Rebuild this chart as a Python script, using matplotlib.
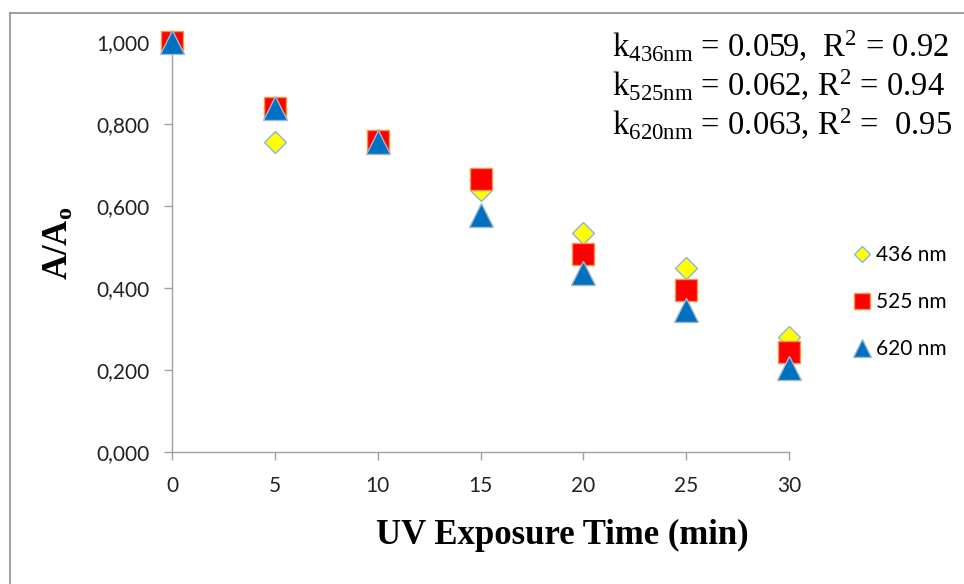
import matplotlib
matplotlib.use("Agg")
from matplotlib import pyplot as plt
from matplotlib.lines import Line2D
from matplotlib.ticker import FuncFormatter, MultipleLocator

plt.rcParams['mathtext.fontset'] = 'custom'
plt.rcParams['mathtext.rm'] = 'Liberation Serif'
plt.rcParams['mathtext.it'] = 'Liberation Serif:italic'
plt.rcParams['mathtext.bf'] = 'Liberation Serif:bold'

### data ###

time_min = [0, 5, 10, 15, 20, 25, 30]
a_436 = [1.000, 0.757, 0.760, 0.638, 0.533, 0.450, 0.280]
a_525 = [1.000, 0.839, 0.759, 0.666, 0.484, 0.396, 0.244]
a_620 = [1.000, 0.838, 0.755, 0.578, 0.437, 0.347, 0.205]
labels = ["436 nm", "525 nm", "620 nm"]
fit_lines = [
    r"k$_{\mathrm{436nm}}$ = 0.059,  R$^{2}$ = 0.92",
    r"k$_{\mathrm{525nm}}$ = 0.062, R$^{2}$ = 0.94",
    r"k$_{\mathrm{620nm}}$ = 0.063, R$^{2}$ =  0.95",
]

### plot ###

fig = plt.figure(figsize=(9.64, 5.84), dpi=100)
ax = fig.add_axes([172/964, 1-452/584, (789-172)/964, (452-42)/584])

ax.plot(time_min, a_436, ls='none', marker='D', ms=11.5, mfc='#FFFF00',
        mec='#8DB3E2', mew=1.0, clip_on=False, zorder=3, label=labels[0])
ax.plot(time_min, a_525, ls='none', marker='s', ms=16, mfc='#FF0000',
        mec='#F79646', mew=1.0, clip_on=False, zorder=4, label=labels[1])
ax.plot(time_min, a_620, ls='none', marker='^', ms=17, mfc='#0070C0',
        mec='#A6B8CC', mew=1.0, clip_on=False, zorder=5, label=labels[2])

ax.set_xlim(0, 30)
ax.set_ylim(0, 1)
ax.xaxis.set_major_locator(MultipleLocator(5))
ax.yaxis.set_major_locator(MultipleLocator(0.2))
ax.yaxis.set_major_formatter(FuncFormatter(lambda v, p: ("%.3f" % v).replace('.', ',')))

for side in ['top', 'right']:
    ax.spines[side].set_visible(False)
for side in ['left', 'bottom']:
    ax.spines[side].set_color('#A0A0A0')
    ax.spines[side].set_linewidth(1.0)
ax.tick_params(direction='out', length=6, width=1.0, color='#A0A0A0',
               labelsize=15, labelcolor='#222222')
ax.tick_params(axis='y', pad=10)
ax.tick_params(axis='x', pad=11)
for lbl in ax.get_xticklabels() + ax.get_yticklabels():
    lbl.set_family('Lato')

# axis titles placed like the original (x title sits right of centre)
fig.text(562/964, 1-535/584, "UV Exposure Time (min)", family='Liberation Serif',
         fontweight='bold', fontsize=25, ha='center', va='center')
fig.text(58/964, 1-243/584, r"$\mathbf{A/A_o}$", fontsize=25, rotation=90,
         ha='center', va='center')

leg = ax.legend(loc='center left', bbox_to_anchor=(845/964, 1-302/584),
                bbox_transform=fig.transFigure, frameon=False, borderaxespad=0,
                prop={'family': 'Lato', 'size': 15}, markerscale=0.75,
                handlelength=0.8, handletextpad=0.3, labelspacing=1.3)

for i, txt in enumerate(fit_lines):
    fig.text(612/964, 1-(57+39*i)/584, txt, fontsize=23.5,
             family='Liberation Serif', va='baseline', ha='left')

# frame around the picture (left and top edges visible)
fig.add_artist(Line2D([10/964, 10/964], [0, 1-13/584], transform=fig.transFigure,
                      color='#909090', lw=1.2))
fig.add_artist(Line2D([10/964, 1], [1-13/584, 1-13/584], transform=fig.transFigure,
                      color='#909090', lw=1.2))

fig.savefig("out.png", dpi=100)
